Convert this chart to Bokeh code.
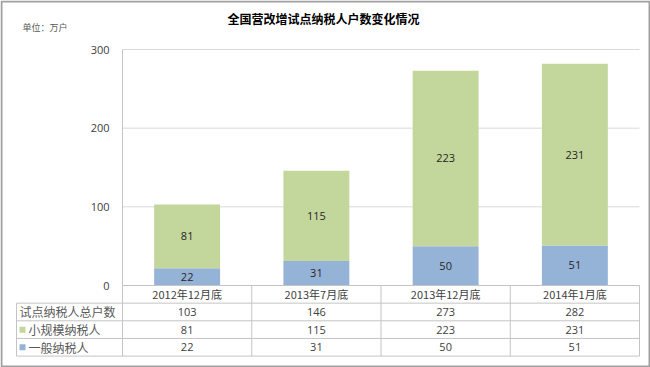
from bokeh.plotting import figure
from bokeh.models import Range1d, LinearAxis, FixedTicker, ColumnDataSource
from bokeh.core.properties import value
from bokeh.embed import file_html
from bokeh.resources import INLINE

# ---- data ----
categories = ["2012年12月底", "2013年7月底", "2013年12月底", "2014年1月底"]
general = [22, 31, 50, 51]          # 一般纳税人
small = [81, 115, 223, 231]         # 小规模纳税人
total = [103, 146, 273, 282]        # 试点纳税人总户数
row_labels = ["试点纳税人总户数", "小规模纳税人", "一般纳税人"]
y_ticks = [0, 100, 200, 300]
title_text = "全国营改增试点纳税人户数变化情况"
unit_text = "单位：万户"

GREEN = "#C3D69B"
BLUE = "#95B3D7"
GRID = "#D9D9D9"
TLINE = "#C4C4C4"
TXT = "#404040"
CJK = "Noto Sans CJK SC"
NUM = "Open Sans"

# ---- layout geometry (pixels) ----
W, H = 650, 367
OFF = 0
PLOT_L, PLOT_R, PLOT_T, PLOT_B = 122, 639, 49, 285
TABLE_L = 16
ROW_H = 17.65
Y_MAX = 300

cat_px = (PLOT_R - PLOT_L) / len(categories)
y_px = (PLOT_B - PLOT_T) / Y_MAX


def xd(px):
    return -0.5 + (px - PLOT_L) / cat_px


def yd(py):
    return (PLOT_B - py) / y_px


def td(py):
    return (py - PLOT_B) / ROW_H


p = figure(width=W, height=H,
           x_range=Range1d(xd(OFF), xd(OFF + W)),
           y_range=Range1d(yd(OFF + H), yd(OFF)),
           output_backend="svg", toolbar_location=None,
           min_border=0, x_axis_location=None, y_axis_location=None)
p.extra_y_ranges = {"table": Range1d(td(OFF + H), td(OFF))}
p.grid.visible = False
p.outline_line_color = None
p.background_fill_color = "white"
p.border_fill_color = "white"

n = len(categories)
xs = list(range(n))
x_lo, x_hi = -0.5, n - 0.5

# gridlines
grid_vals = [t for t in y_ticks if t > 0]
p.segment(x0=[x_lo] * len(grid_vals), x1=[x_hi] * len(grid_vals),
          y0=grid_vals, y1=grid_vals, line_color=GRID, line_width=1)

# bars
bw = 0.51
src = ColumnDataSource(dict(
    x=xs, general=general, small=small,
    top=[g + s for g, s in zip(general, small)],
    gmid=[g / 2 for g in general],
    smid=[g + s / 2 for g, s in zip(general, small)],
    glab=[str(v) for v in general], slab=[str(v) for v in small],
))
p.vbar(x="x", width=bw, bottom=0, top="general", source=src,
       fill_color=BLUE, line_color=None)
p.vbar(x="x", width=bw, bottom="general", top="top", source=src,
       fill_color=GREEN, line_color=None)
p.text(x="x", y="gmid", text="glab", source=src, text_align="center",
       text_baseline="middle", text_font=value(NUM), text_font_size="11px",
       text_color="#262626")
p.text(x="x", y="smid", text="slab", source=src, text_align="center",
       text_baseline="middle", text_font=value(NUM), text_font_size="11px",
       text_color="#262626")

# y axis
ax = LinearAxis(fixed_location=x_lo, bounds=(0, Y_MAX),
                ticker=FixedTicker(ticks=y_ticks),
                major_tick_in=0, major_tick_out=0,
                minor_tick_in=0, minor_tick_out=0,
                axis_line_color=TLINE, major_label_standoff=13,
                major_label_text_font=NUM, major_label_text_font_size="11px",
                major_label_text_color=TXT)
p.add_layout(ax, "left")

# ---- data table ----
nrows = 1 + len(row_labels)
xl = xd(TABLE_L)
p.segment(x0=[x_lo], x1=[x_hi], y0=[0], y1=[0], y_range_name="table",
          line_color=TLINE)
p.segment(x0=[xl] * nrows, x1=[x_hi] * nrows,
          y0=list(range(1, nrows + 1)), y1=list(range(1, nrows + 1)),
          y_range_name="table", line_color=TLINE)
vx = [x_lo + i for i in range(n + 1)]
p.segment(x0=vx, x1=vx, y0=[0] * len(vx), y1=[nrows] * len(vx),
          y_range_name="table", line_color=TLINE)
p.segment(x0=[xl], x1=[xl], y0=[1], y1=[nrows], y_range_name="table",
          line_color=TLINE)

p.text(x=xs, y=[0.5] * n, text=categories, y_range_name="table",
       text_align="center", text_baseline="middle", text_font=value(CJK),
       text_font_size="11px", text_color=TXT)
rows = [total, small, general]
for r, vals in enumerate(rows):
    p.text(x=xs, y=[r + 1.5] * n, text=[str(v) for v in vals],
           y_range_name="table", text_align="center", text_baseline="middle",
           text_font=value(NUM), text_font_size="11px", text_color=TXT)

p.text(x=[xd(19)], y=[1.5], text=[row_labels[0]], y_range_name="table",
       text_align="left", text_baseline="middle", text_font=value(CJK),
       text_font_size="12px", text_color="#595959")
p.text(x=[xd(28)] * 2, y=[2.5, 3.5], text=row_labels[1:], y_range_name="table",
       text_align="left", text_baseline="middle", text_font=value(CJK),
       text_font_size="12px", text_color="#595959")
p.scatter(x=[xd(22)] * 2, y=[2.5, 3.5], marker="square", size=6,
          fill_color=[GREEN, BLUE], line_color=None, y_range_name="table")

# titles
p.text(x=[xd(323)], y=[yd(18)], text=[title_text], text_align="center",
       text_baseline="middle", text_font=value(CJK), text_font_size="12px",
       text_font_style="bold", text_color="#000000")
p.text(x=[xd(22)], y=[yd(27)], text=[unit_text], text_align="left",
       text_baseline="middle", text_font=value(CJK), text_font_size="9px",
       text_color="#595959")

# outer border
p.quad(left=[xd(1)], right=[xd(649)], top=[yd(1)], bottom=[yd(366)],
       fill_color=None, line_color="#A0A0A0", line_width=2)

open("out.html", "w").write(file_html(p, INLINE))
